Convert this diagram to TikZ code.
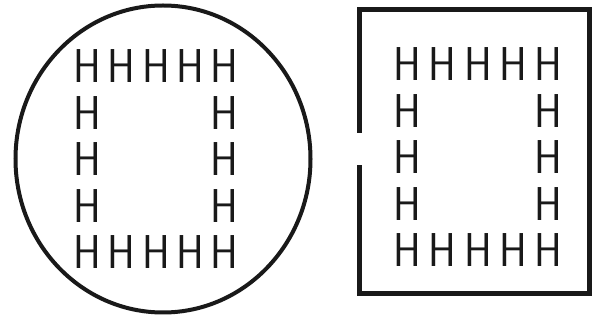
\documentclass[tikz,border=0pt]{standalone}
\definecolor{ink}{RGB}{25, 25, 25}
\definecolor{paper}{RGB}{255, 255, 255}
\usepackage{graphicx}
\usetikzlibrary{positioning, calc}
\tikzset{
    hchar/.style={
        inner sep=0pt, outer sep=0pt, text=ink,
        font=\sffamily\fontsize{47.5}{50}\selectfont
    },
    outline/.style={draw=ink, line width=#1}
}
\newcommand{\hletter}{\scalebox{0.88}[1]{H}}

\begin{document}
\begin{tikzpicture}[x=1pt, y=-1pt]
    \useasboundingbox[fill=paper] (0,0) rectangle (592,320);

    % left: round outline
    \draw[outline=4pt] (163,159) ellipse (147.5 and 153.5);

    % right: square outline, open on its left side
    \draw[outline=5pt] (359,133) -- (359,9.5) -- (589,9.5)
        -- (589,293.5) -- (359,293.5) -- (359,165);

    % H ring inside the circle
    \foreach \c in {1,...,5} {
        \node[hchar] (ct\c) at ({87.5+34.2*(\c-1)},66) {\hletter};
        \node[hchar] (cb\c) at ({87.5+34.2*(\c-1)},252.5) {\hletter};
    }
    \foreach \r in {2,3,4} {
        \node[hchar] (cl\r) at (87.5,{66+46.6*(\r-1)}) {\hletter};
        \node[hchar] (cr\r) at (224.3,{66+46.6*(\r-1)}) {\hletter};
    }

    % H ring inside the square
    \foreach \c in {1,...,5} {
        \node[hchar] (st\c) at ({407.5+35.2*(\c-1)},64.5) {\hletter};
        \node[hchar] (sb\c) at ({407.5+35.2*(\c-1)},250) {\hletter};
    }
    \foreach \r in {2,3,4} {
        \node[hchar] (sl\r) at (407.5,{64.5+46.4*(\r-1)}) {\hletter};
        \node[hchar] (sr\r) at (548.3,{64.5+46.4*(\r-1)}) {\hletter};
    }
\end{tikzpicture}
\end{document}
